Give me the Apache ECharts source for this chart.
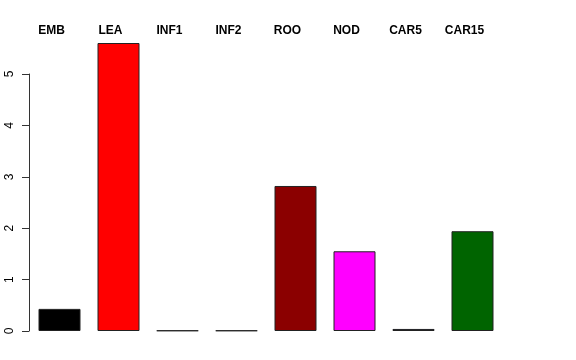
<!DOCTYPE html>
<html><head><meta charset="utf-8">
<script src="https://cdn.jsdelivr.net/npm/echarts@6/dist/echarts.min.js"></script>
<style>html,body{margin:0;padding:0;background:#fff}#c{width:576px;height:360px}</style>
</head><body><div id="c"></div>
<script>
var categories = ["EMB","LEA","INF1","INF2","ROO","NOD","CAR5","CAR15"];
var values = [0.43, 5.60, 0.01, 0.01, 2.82, 1.55, 0.04, 1.94];
var yTicks = [0,1,2,3,4,5];
var barColors = ["#000000","#FF0000","#00CD00","#0000FF","#8B0000","#FF00FF","#000080","#006400"];

var chart = echarts.init(document.getElementById('c'), null, {renderer:'canvas'});
chart.setOption({
  animation:false,
  backgroundColor:'#fff',
  grid:[
    {left:30, width:472, top:43, bottom:29},
    {left:29, width:472, top:74, bottom:29}
  ],
  xAxis:[
    {type:'category', gridIndex:0, data:categories, position:'bottom',
     axisLine:{show:false}, axisTick:{show:false}, axisLabel:{show:false}},
    {type:'category', gridIndex:0, data:categories, position:'top',
     axisLine:{show:false}, axisTick:{show:false},
     axisLabel:{show:true, interval:0, margin:6, color:'#000', fontFamily:'Liberation Sans',
       fontWeight:'bold', fontSize:12, padding:[0,16,0,0]}},
    {type:'value', gridIndex:1, show:false}
  ],
  yAxis:[
    {type:'value', gridIndex:0, min:0, max:5.6, show:false, splitLine:{show:false}},
    {type:'value', gridIndex:1, min:yTicks[0], max:yTicks[yTicks.length-1], interval:1,
     axisLine:{show:true, lineStyle:{color:'#333', width:1}},
     axisTick:{show:true, length:7, lineStyle:{color:'#333'}},
     splitLine:{show:false},
     axisLabel:{show:true, rotate:90, margin:13, color:'#000', fontFamily:'Liberation Sans', fontSize:12}}
  ],
  series:[{
    type:'bar', xAxisIndex:0, yAxisIndex:0, barWidth:42,
    data: values.map(function(v,i){return {value:v, itemStyle:{color:barColors[i]}};}),
    itemStyle:{borderColor:'#222', borderWidth:1}
  }]
});
</script></body></html>
